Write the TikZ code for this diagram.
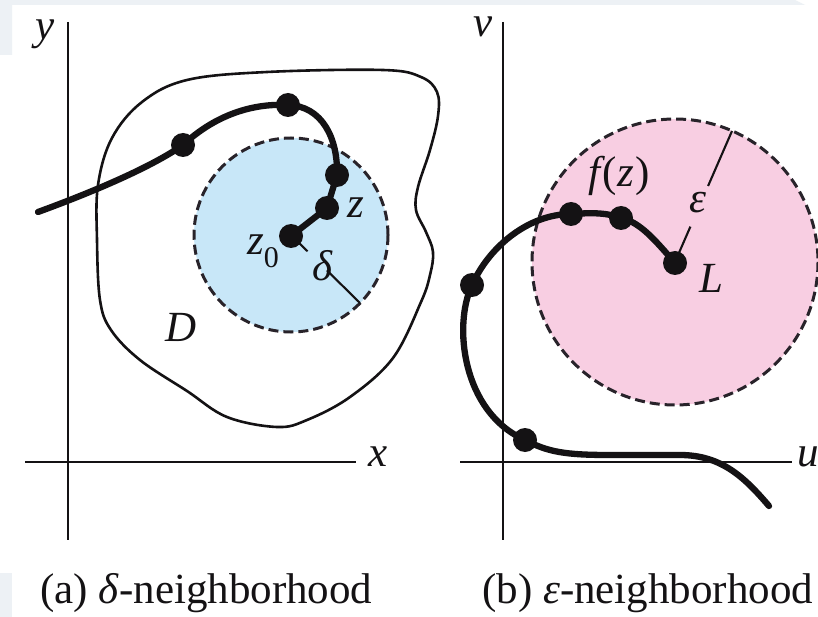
\documentclass[tikz,border=0pt]{standalone}
\usepackage{fontspec}
\setmainfont{Liberation Serif}
\usetikzlibrary{calc}
\definecolor{bluefill}{RGB}{200,231,248}
\definecolor{pinkfill}{RGB}{248,206,226}
\definecolor{ink}{RGB}{20,18,20}
\definecolor{dashink}{RGB}{40,35,42}
\definecolor{paleband}{RGB}{237,241,245}
\tikzset{
  axis/.style={line width=2.1pt, ink},
  region/.style={line width=2.6pt, ink},
  curvepath/.style={line width=6.3pt, ink, line cap=round, line join=round},
  dot/.style={circle, fill=ink, inner sep=0pt, minimum size=24pt},
  nbhd/.style={line width=3pt, dashink, dash pattern=on 10pt off 5pt},
  radius line/.style={line width=2.1pt, ink},
  lab/.style={font=\fontsize{43}{43}\selectfont\itshape, inner sep=0pt, text=ink},
  captext/.style={font=\fontsize{43}{43}\selectfont, inner sep=0pt, text=ink}
}
\begin{document}
\begin{tikzpicture}[x=1pt,y=-1pt]
\useasboundingbox (0,0) rectangle (818,617);
\fill[white] (0,0) rectangle (818,617);
% faint background bands
\fill[paleband] (0,0) -- (795,0) -- (805,5) -- (12,5) -- (12,55) -- (0,55) -- cycle;
\fill[paleband] (0,573) rectangle (12,617);

% ---------- panel (a) ----------
\draw[axis] (68,22) -- (68,540);
\draw[axis] (25,462) -- (356,462);
\node[lab] (ylab) at (45,34) {y};
\node[lab] (xlab) at (378,457) {x};

% region D
\draw[region] plot[smooth cycle, tension=0.6] coordinates {
 (98,185) (112,138) (142,102) (187,80) (267,72) (383,70) (421,77) (437,92)
 (438,116) (430,150) (418,187) (416,210) (426,232) (433,252) (430,275)
 (421,302) (393,358) (350,397) (307,420) (277,427) (227,417) (187,391)
 (140,360) (111,330) (100,300) (97,240)};

% delta neighbourhood
\coordinate (bc) at (291,235);
\fill[bluefill] (bc) circle[radius=97];
\draw[nbhd] (bc) circle[radius=97];
\coordinate (dend) at (360,303);
\draw[radius line] ($(bc)!0.05!(dend)$) -- ($(bc)!0.24!(dend)$);
\draw[radius line] ($(bc)!0.52!(dend)$) -- (dend);
\node[lab] (deltalab) at (322,266) {δ};

% curve into z0
\node[dot] (a1) at (183,145) {};
\node[dot] (a2) at (288,105) {};
\node[dot] (a3) at (337,175) {};
\node[dot] (a4) at (327,208) {};
\node[dot] (z0) at (291,236) {};
\coordinate (astart) at (38,212);
\draw[curvepath] (astart) .. controls (90,193) and (150,168) .. (a1.center)
  .. controls (212,118) and (248,103) .. (a2.center)
  .. controls (322,106) and (338,138) .. (a3.center)
  -- (a4.center) -- (z0.center);
\node[lab] (zlab) at (356,208) {z};
\node[lab] (z0lab) at (263,251) {z\raisebox{-0.3em}{\fontsize{30}{30}\selectfont\upshape 0}};
\node[lab] (Dlab) at (181,327) {D};

% ---------- panel (b) ----------
\draw[axis] (503,22) -- (503,540);
\draw[axis] (460,462) -- (792,462);
\node[lab] (vlab) at (483,27) {v};
\node[lab] (ulab) at (808,457) {u};

% epsilon neighbourhood
\coordinate (pc) at (675,262);
\fill[pinkfill] (pc) circle[radius=143];
\draw[nbhd] (pc) circle[radius=143];
\coordinate (eend) at (732,131);
\draw[radius line] ($(pc)!0.06!(eend)$) -- ($(pc)!0.27!(eend)$);
\draw[radius line] ($(pc)!0.58!(eend)$) -- (eend);
\node[lab] (epslab) at (698,203) {ε};

% image curve
\node[dot] (L) at (675,263) {};
\node[dot] (b1) at (621,218) {};
\node[dot] (b2) at (571,214) {};
\node[dot] (b3) at (472,285) {};
\node[dot] (b4) at (525,440) {};
\coordinate (bend) at (769,506);
\draw[curvepath] (L.center) .. controls (655,240) and (640,222) .. (b1.center)
  .. controls (605,212) and (590,213) .. (b2.center)
  .. controls (530,214) and (490,245) .. (b3.center)
  .. controls (453,325) and (462,412) .. (b4.center)
  .. controls (548,452) and (565,455) .. (610,455)
  -- (680,455) .. controls (722,455) and (745,478) .. (bend);
\node[lab] (fzlab) at (619,176) {f\kern0.06em\upshape(\itshape z\kern0.04em\upshape)};
\node[lab] (Llab) at (711,278) {L};

% captions
\node[captext, anchor=west] (capa) at (40,593) {(a) \textit{δ}-neighborhood};
\node[captext, anchor=west] (capb) at (482,593) {(b) \textit{ε}-neighborhood};
\end{tikzpicture}
\end{document}
